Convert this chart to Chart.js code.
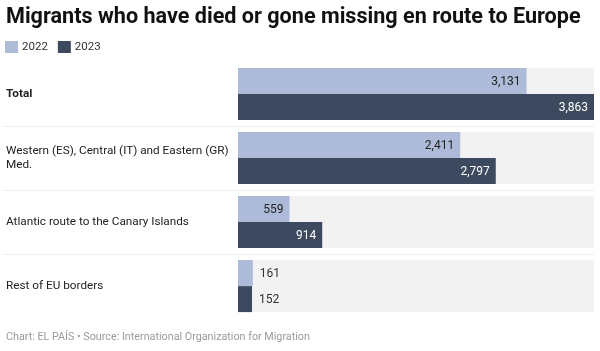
<!DOCTYPE html>
<html>
<head>
<meta charset="utf-8">
<script src="https://cdn.jsdelivr.net/npm/chart.js@4.4.0/dist/chart.umd.min.js"></script>
<style>
  html, body { margin: 0; padding: 0; background: #ffffff; }
  #wrap { position: relative; width: 600px; height: 351px; }
</style>
</head>
<body>
<div id="wrap"><canvas id="c"></canvas></div>
<script>
const categories = [
  'Total',
  ['Western (ES), Central (IT) and Eastern (GR)', 'Med.'],
  'Atlantic route to the Canary Islands',
  'Rest of EU borders'
];
const values2022 = [3131, 2411, 559, 161];
const values2023 = [3863, 2797, 914, 152];
const seriesNames = ['2022', '2023'];

const LIGHT = '#adbbd8';
const DARK = '#3c495e';
const FONT = 'Roboto, "Noto Sans", sans-serif';

const rowBackground = {
  id: 'rowBackground',
  beforeDatasetsDraw(chart) {
    const ctx = chart.ctx, area = chart.chartArea;
    const m0 = chart.getDatasetMeta(0), m1 = chart.getDatasetMeta(1);
    ctx.save();
    ctx.fillStyle = '#f2f2f2';
    m0.data.forEach((el, i) => {
      const top = el.y - el.height / 2;
      const e1 = m1.data[i];
      const bottom = e1.y + e1.height / 2;
      ctx.fillRect(area.left, top, area.right - area.left, bottom - top);
    });
    const y = chart.scales.y;
    ctx.strokeStyle = '#dcdcdc';
    ctx.lineWidth = 1;
    ctx.setLineDash([1, 1]);
    for (let i = 0; i < categories.length - 1; i++) {
      const yy = Math.round((y.getPixelForValue(i) + y.getPixelForValue(i + 1)) / 2) + 0.5;
      ctx.beginPath();
      ctx.moveTo(5, yy);
      ctx.lineTo(area.right, yy);
      ctx.stroke();
    }
    ctx.restore();
  }
};

const valueLabels = {
  id: 'valueLabels',
  afterDatasetsDraw(chart) {
    const ctx = chart.ctx;
    ctx.save();
    ctx.font = '12px ' + FONT;
    ctx.textBaseline = 'middle';
    chart.data.datasets.forEach((ds, di) => {
      const meta = chart.getDatasetMeta(di);
      meta.data.forEach((el, i) => {
        const txt = ds.data[i].toLocaleString('en-US');
        const w = ctx.measureText(txt).width;
        const barW = el.x - el.base;
        if (barW > w + 12) {
          ctx.textAlign = 'right';
          ctx.fillStyle = di === 1 ? '#ffffff' : '#222222';
          ctx.fillText(txt, el.x - 6, el.y + 1);
        } else {
          ctx.textAlign = 'left';
          ctx.fillStyle = '#333333';
          ctx.fillText(txt, el.x + 7, el.y + 1);
        }
      });
    });
    ctx.restore();
  }
};

const customLegend = {
  id: 'customLegend',
  afterDraw(chart) {
    const ctx = chart.ctx;
    ctx.save();
    ctx.font = '11.5px ' + FONT;
    ctx.textBaseline = 'middle';
    ctx.textAlign = 'left';
    let x = 5;
    const yTop = 41, box = 12;
    chart.data.datasets.forEach((ds) => {
      ctx.fillStyle = ds.backgroundColor;
      ctx.fillRect(x, yTop, box + 1, box);
      x += box + 5;
      ctx.fillStyle = '#333333';
      ctx.fillText(ds.label, x, yTop + box / 2 + 0.5);
      x += ctx.measureText(ds.label).width + 10;
    });
    ctx.restore();
  }
};

new Chart(document.getElementById('c'), {
  type: 'bar',
  data: {
    labels: categories,
    datasets: [
      { label: seriesNames[0], data: values2022, backgroundColor: LIGHT, borderWidth: 0 },
      { label: seriesNames[1], data: values2023, backgroundColor: DARK, borderWidth: 0 }
    ]
  },
  options: {
    indexAxis: 'y',
    responsive: true,
    maintainAspectRatio: false,
    animation: false,
    events: [],
    categoryPercentage: 0.8125,
    barPercentage: 1.0,
    layout: { padding: { left: 6, right: 6, top: 3, bottom: 1 } },
    scales: {
      x: {
        display: false,
        min: 0,
        max: Math.max(...values2022, ...values2023)
      },
      y: {
        grid: { display: false },
        border: { display: false },
        afterFit(scale) { scale.width = 232; },
        ticks: {
          crossAlign: 'far',
          color: '#222222',
          padding: 0,
          font: (ctx) => ({
            family: FONT,
            size: 11.75,
            lineHeight: 1.2,
            weight: ctx.index === 0 ? 'bold' : 'normal'
          })
        }
      }
    },
    plugins: {
      title: {
        display: true,
        text: 'Migrants who have died or gone missing en route to Europe',
        align: 'start',
        color: '#111111',
        font: { family: FONT, size: 21.6, weight: 'bold', lineHeight: 1.2 },
        padding: { top: 2, bottom: 31 }
      },
      legend: { display: false },
      subtitle: {
        display: true,
        position: 'bottom',
        align: 'start',
        text: 'Chart: EL PAÍS • Source: International Organization for Migration',
        color: '#9a9a9a',
        font: { family: FONT, size: 10.75, lineHeight: 1.2 },
        padding: { top: 13, bottom: 6 }
      },
      tooltip: { enabled: false }
    }
  },
  plugins: [rowBackground, valueLabels, customLegend]
});
</script>
</body>
</html>
